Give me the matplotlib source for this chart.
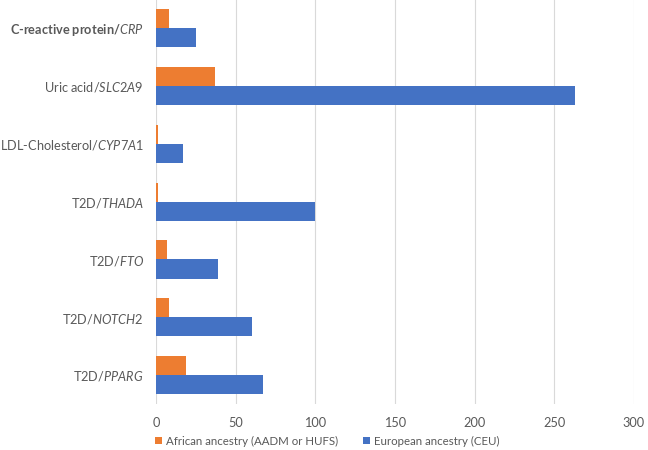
import numpy as np
import matplotlib.pyplot as plt

# categories listed bottom -> top as drawn on the y axis
trait_names = ["T2D", "T2D", "T2D", "T2D", "LDL-Cholesterol", "Uric acid", "C-reactive protein"]
gene_names = ["PPARG", "NOTCH2", "FTO", "THADA", "CYP7A1", "SLC2A9", "CRP"]
african_vals = [19, 8, 7, 1, 1, 37, 8]
european_vals = [67, 60, 39, 100, 17, 263, 25]
x_ticks = [0, 50, 100, 150, 200, 250, 300]

ORANGE = "#ED7D31"
BLUE = "#4472C4"
TEXT_GRAY = "#595959"

plt.rcParams.update(
    {
        "font.family": "Lato",
        "mathtext.fontset": "custom",
        "mathtext.rm": "Lato",
        "mathtext.it": "Lato:italic",
        "mathtext.bf": "Lato:bold",
        "font.size": 9.5,
    }
)

fig = plt.figure(figsize=(6.48, 4.5), dpi=100)
ax = fig.add_axes([0.241, 0.102, 0.737, 0.9])

y = np.arange(len(gene_names))
h = 0.33

ax.barh(y + h / 2, african_vals, height=h, color=ORANGE, label="African ancestry (AADM or HUFS)", zorder=3)
ax.barh(y - h / 2, european_vals, height=h, color=BLUE, label="European ancestry (CEU)", zorder=3)

ax.set_xlim(0, 300)
ax.set_ylim(-0.5, len(gene_names) - 0.5)
ax.set_xticks(x_ticks)
ax.set_xticklabels([str(t) for t in x_ticks])

labels = [f"{t}/$\\mathit{{{g}}}$" for t, g in zip(trait_names, gene_names)]
ax.set_yticks(y)
ax.set_yticklabels(labels)
ax.get_yticklabels()[-1].set_fontweight("bold")

ax.tick_params(axis="both", length=0, colors=TEXT_GRAY)
ax.tick_params(axis="y", pad=9, labelsize=9.2)
ax.tick_params(axis="x", pad=9, labelsize=9.2)
ax.grid(axis="x", color="#D9D9D9", linewidth=0.8, zorder=0)
for s in ax.spines.values():
    s.set_visible(False)

leg = fig.legend(
    loc="center",
    bbox_to_anchor=(0.505, 0.02),
    ncol=2,
    frameon=False,
    handlelength=0.6,
    handleheight=0.6,
    handletextpad=0.3,
    columnspacing=2.2,
    fontsize=8.3,
)
for t in leg.get_texts():
    t.set_color(TEXT_GRAY)

fig.savefig("out.png", dpi=100)
